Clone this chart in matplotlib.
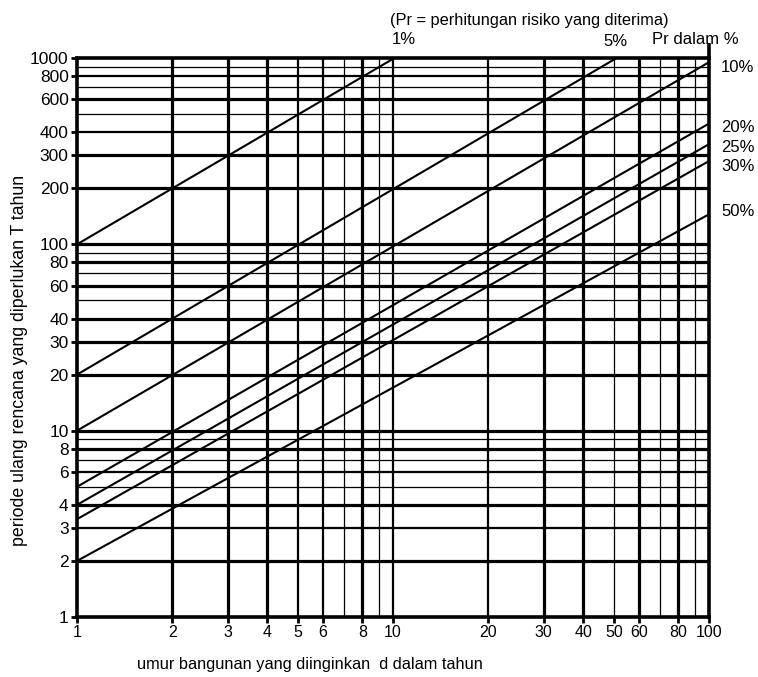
import matplotlib; matplotlib.use('Agg')
import matplotlib.pyplot as plt
from matplotlib.ticker import FixedLocator, NullLocator

plt.rcParams['font.family'] = ['Liberation Sans', 'DejaVu Sans']

# ---- data ----
risk_labels = ['1%', '5%', '10%', '20%', '25%', '30%', '50%']
d_start = [1, 1, 1, 1, 1, 1, 1]
T_start = [100, 20, 10, 5, 4, 3.35, 2]
d_end = [10, 51, 100, 100, 100, 100, 100]
T_end = [990, 1000, 950, 445, 345, 280, 145]

x_ticks = [1, 2, 3, 4, 5, 6, 8, 10, 20, 30, 40, 50, 60, 80, 100]
y_ticks = [1, 2, 3, 4, 6, 8, 10, 20, 30, 40, 60, 80, 100, 200, 300, 400, 600, 800, 1000]

x_grid = [2, 3, 4, 5, 6, 7, 8, 9, 10, 20, 30, 40, 50, 60, 70, 80, 90]
x_grid_w = ['T', 'T', 'T', 'M', 'M', 't', 'T', 't', 'M', 'M', 'T', 'T', 't', 'T', 't', 'T', 't']
y_grid = [2, 3, 4, 5, 6, 7, 8, 9, 10, 20, 30, 40, 50, 60, 70, 80, 90, 100,
          200, 300, 400, 500, 600, 700, 800, 900]
y_grid_w = ['T', 'M', 'T', 't', 'M', 't', 'T', 't', 'T', 'T', 'T', 'T', 't', 'T', 't', 'T', 't', 'T',
            'T', 'T', 'M', 't', 'T', 't', 'M', 't']

LW = {'T': 2.3, 'M': 1.6, 't': 0.9}

fig = plt.figure(figsize=(7.58, 6.77), dpi=100)
ax = fig.add_axes([0.1016, 0.0886, 0.8338, 0.8257])
ax.set_xscale('log'); ax.set_yscale('log')
ax.set_xlim(1, 100); ax.set_ylim(1, 1000)

for v, w in zip(x_grid, x_grid_w):
    ax.axvline(v, color='black', lw=LW[w], zorder=1)
for v, w in zip(y_grid, y_grid_w):
    ax.axhline(v, color='black', lw=LW[w], zorder=1)

for xs, ys, xe, ye in zip(d_start, T_start, d_end, T_end):
    ax.plot([xs, xe], [ys, ye], color='black', lw=1.5, zorder=2)

for s in ax.spines.values():
    s.set_linewidth(2.6)
# right edge runs up past the top frame
ax.plot([1, 1], [1, 1.027], transform=ax.transAxes, color='black', lw=2.6,
        clip_on=False, solid_capstyle='butt')

ax.xaxis.set_major_locator(FixedLocator(x_ticks))
ax.xaxis.set_minor_locator(NullLocator())
ax.set_xticklabels([str(v) for v in x_ticks], fontsize=11.5)
ax.yaxis.set_major_locator(FixedLocator(y_ticks))
ax.yaxis.set_minor_locator(NullLocator())
ax.set_yticklabels([str(v) for v in y_ticks], fontsize=12.5)
ax.tick_params(axis='both', direction='out', length=4, width=2, pad=2)

fig.text(20 / 758, 1 - 360 / 677, 'periode ulang rencana yang diperlukan T tahun',
         rotation=90, ha='center', va='center', fontsize=12.8)
fig.text(137 / 758, 1 - 664 / 677, 'umur bangunan yang diinginkan  d dalam tahun',
         ha='left', va='center', fontsize=11.8)

fig.text(390 / 758, 1 - 20 / 677, '(Pr = perhitungan risiko yang diterima)',
         ha='left', va='center', fontsize=11.8)
fig.text(392 / 758, 1 - 39 / 677, risk_labels[0], ha='left', va='center', fontsize=12)
fig.text(603 / 758, 1 - 42 / 677, risk_labels[1], ha='left', va='center', fontsize=12)
fig.text(652 / 758, 1 - 40 / 677, 'Pr dalam %', ha='left', va='center', fontsize=12)
right_y = [67, 128, 147, 167, 212]
for lab, yy in zip(risk_labels[2:], right_y):
    fig.text(721 / 758, 1 - yy / 677, lab, ha='left', va='center', fontsize=12)

fig.savefig('out.png', dpi=100)
